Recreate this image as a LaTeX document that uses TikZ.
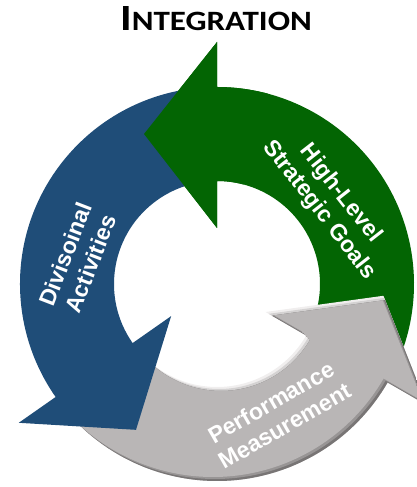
\documentclass[tikz,border=0pt]{standalone}
\usepackage{fontspec}
\setmainfont{Liberation Sans}
\newfontfamily\titlefont{Carlito}
\usetikzlibrary{calc}

\definecolor{goalgreen}{RGB}{3,101,3}
\definecolor{divblue}{RGB}{31,77,120}
\definecolor{measgray}{RGB}{185,182,182}
\definecolor{measlight}{RGB}{240,238,238}
\definecolor{measdark}{RGB}{120,117,117}

\newcommand{\outerR}{197}
\newcommand{\innerR}{103}
\newcommand{\midR}{150}
\newcommand{\barbout}{242}
\newcommand{\barbin}{56}
\newcommand{\headlen}{73}

% ring piece from #1 to #2 degrees, head at #2
\newcommand{\ringarrow}[2]{(#1:\outerR) arc[start angle=#1, end angle=#2, radius=\outerR]
  -- (#2:\barbout) -- ($(#2:\midR)+({#2+90}:\headlen)$) -- (#2:\barbin)
  -- (#2:\innerR) arc[start angle=#2, end angle=#1, radius=\innerR] -- cycle}
\newcommand{\everywhere}{(-300,-300) rectangle (300,300)}

\tikzset{
  cyclelabel/.style={text=white, font=\bfseries\fontsize{23}{27}\selectfont, align=center, inner sep=0pt}
}

\begin{document}
\begin{tikzpicture}[x=1pt,y=1pt]
  \useasboundingbox (0,0) rectangle (417,487);

  \node (title) at (216,456) [anchor=base, xscale=1.18]
    {\titlefont\bfseries{\fontsize{37}{37}\selectfont I}{\fontsize{28}{28}\selectfont NTEGRATION}};

  \begin{scope}[shift={(217,203)}]
    % green one first, its head is filled again on top of the blue tail
    \fill[goalgreen] \ringarrow{-25}{90};

    % gray one, light upper edges and dark lower edges
    \begin{scope}
      \clip \ringarrow{220}{330};
      \fill[measlight] \everywhere;
      \begin{scope}[shift={(2,-2)}]
        \clip \ringarrow{220}{330};
        \fill[measgray!50!measlight] \everywhere;
        \begin{scope}[shift={(2,-2)}]
          \clip \ringarrow{220}{330};
          \fill[measdark] \everywhere;
          \begin{scope}[shift={(-6,6)}]
            \clip \ringarrow{220}{330};
            \fill[measgray!50!measdark] \everywhere;
            \begin{scope}[shift={(-2,2)}]
              \clip \ringarrow{220}{330};
              \fill[measgray] \everywhere;
            \end{scope}
          \end{scope}
        \end{scope}
      \end{scope}
    \end{scope}

    \fill[divblue] \ringarrow{96}{215};
    \fill[goalgreen] \ringarrow{75}{90};

    \node[cyclelabel, rotate=-52] (goals) at (113,82) {High-Level\\Strategic Goals};
    \node[cyclelabel, rotate=69] (divisions) at (-139,25) {Divisoinal\\Activities};
    \node[cyclelabel, rotate=30] (measures) at (61,-130) {Performance\\Measurement};
  \end{scope}
\end{tikzpicture}
\end{document}
